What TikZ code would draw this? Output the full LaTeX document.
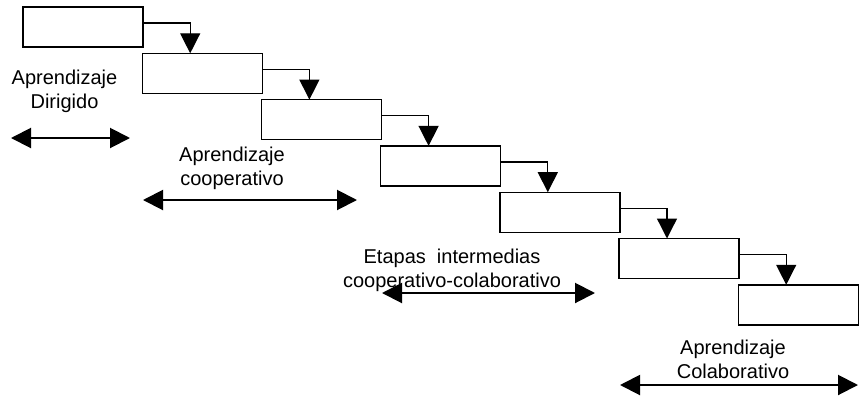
\documentclass[tikz,border=0pt]{standalone}
\usepackage{fontspec}
\setmainfont{Liberation Sans}
\usetikzlibrary{arrows.meta}
\tikzset{
  stepbox/.style={draw=black, line width=1.4pt, fill=white, minimum width=120pt, minimum height=40pt, inner sep=0pt, outer sep=0pt, anchor=north west},
  conn/.style={line width=1.3pt, -{Triangle[length=20pt,width=20pt]}},
  dbl/.style={line width=2pt, {Triangle[length=20pt,width=20pt]}-{Triangle[length=20pt,width=20pt]}},
  lbl/.style={align=center, font=\fontsize{20}{24}\selectfont, inner sep=0pt}
}
\begin{document}
\begin{tikzpicture}[x=1pt,y=-1pt]
\useasboundingbox (0,0) rectangle (859,397);
\foreach \i in {0,...,6} {
  \node[stepbox] (b\i) at ({23+119.2*\i},{7+46.3*\i}) {};
}
\foreach \i [evaluate=\i as \j using int(\i+1)] in {0,...,5} {
  \draw[conn] ([yshift=-16pt]b\i.north east) -| ([xshift=48pt]b\j.north west);
}
\node[lbl] (t1) at (64.5,91) {Aprendizaje\\Dirigido};
\node[lbl] (t2) at (232,168) {Aprendizaje\\cooperativo};
\node[lbl] (t3) at (452,270) {Etapas\ \ intermedias\\cooperativo-colaborativo};
\node[lbl] (t4) at (733,359) {Aprendizaje\\Colaborativo};
\coordinate (a1l) at (11,138);
\coordinate (a1r) at (130,138);
\coordinate (a2l) at (143,200);
\coordinate (a2r) at (357,200);
\coordinate (a3l) at (382,293);
\coordinate (a3r) at (595,293);
\coordinate (a4l) at (620,385);
\coordinate (a4r) at (858,385);
\draw[dbl] (a1l) -- (a1r);
\draw[dbl] (a2l) -- (a2r);
\draw[dbl] (a3l) -- (a3r);
\draw[dbl] (a4l) -- (a4r);
\end{tikzpicture}
\end{document}
